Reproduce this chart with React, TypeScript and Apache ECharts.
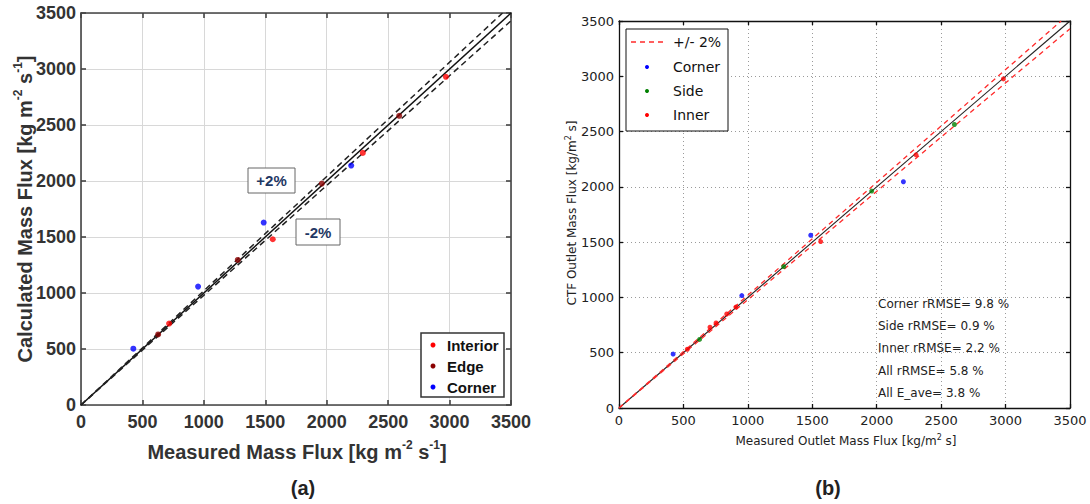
import React, { useEffect, useRef } from "react";
import * as echarts from "echarts";

// ---------- data ----------
const axisMin = 0;
const axisMax = 3500;
const axisStep = 500;

// reference lines (x, y)
const identityLine = [[0, 0], [3500, 3500]];
const plus2Line = [[0, 0], [3431, 3500]];
const minus2Line = [[0, 0], [3500, 3430]];

// chart (a)
const aInteriorX = [717, 1561, 2294, 2970];
const aInteriorY = [727, 1480, 2251, 2930];
const aEdgeX = [628, 1276, 1960, 2590];
const aEdgeY = [630, 1295, 1977, 2582];
const aCornerX = [426, 953, 1487, 2199];
const aCornerY = [503, 1057, 1629, 2138];

// chart (b)
const bCornerX = [420, 953, 1488, 2207];
const bCornerY = [488, 1017, 1562, 2046];
const bSideX = [625, 1278, 1961, 2603];
const bSideY = [620, 1279, 1962, 2564];
const bInnerX = [530, 706, 753, 836, 907, 1565, 2305, 2983];
const bInnerY = [531, 730, 769, 850, 913, 1505, 2290, 2976];

const statsLines = [
  "Corner rRMSE= 9.8 %",
  "Side rRMSE= 0.9 %",
  "Inner rRMSE= 2.2 %",
  "All rRMSE= 5.8 %",
  "All E_ave= 3.8 %",
];

const pairs = (xs: number[], ys: number[]) => xs.map((x, i) => [x, ys[i]]);

const FA = "'Liberation Sans', Arial, sans-serif";
const FB = "'DejaVu Sans', sans-serif";

export default function App() {
  const ref = useRef<HTMLDivElement>(null);
  useEffect(() => {
    if (!ref.current) return;
    const chart = echarts.init(ref.current, undefined, { renderer: "svg" });

    const aLine = { color: "#444", width: 1.6 };
    const bLine = { color: "#111", width: 1.3 };
    const fmt = (v: number) => String(v);

    const mkX = (grid: number, pos: "bottom" | "top", isA: boolean) => ({
      gridIndex: grid,
      type: "value",
      position: pos,
      min: axisMin,
      max: axisMax,
      interval: axisStep,
      axisLine: { show: true, onZero: false, lineStyle: isA ? aLine : bLine },
      axisTick: { show: true, inside: true, length: isA ? 5 : 4, lineStyle: isA ? aLine : bLine },
      axisLabel: {
        show: pos === "bottom",
        formatter: fmt,
        color: isA ? "#333" : "#222",
        fontSize: isA ? 18 : 13,
        fontWeight: isA ? "bold" : "normal",
        fontFamily: isA ? FA : FB,
        margin: isA ? 8 : 6,
      },
      splitLine: {
        show: pos === "bottom",
        lineStyle: isA
          ? { color: "#d8d8d8", width: 1 }
          : { color: "#9a9a9a", width: 1, type: [1, 3] },
      },
    });
    const mkY = (grid: number, pos: "left" | "right", isA: boolean) => ({
      gridIndex: grid,
      type: "value",
      position: pos,
      min: axisMin,
      max: axisMax,
      interval: axisStep,
      axisLine: { show: true, onZero: false, lineStyle: isA ? aLine : bLine },
      axisTick: { show: true, inside: true, length: isA ? 5 : 4, lineStyle: isA ? aLine : bLine },
      axisLabel: {
        show: pos === "left",
        formatter: fmt,
        color: isA ? "#333" : "#222",
        fontSize: isA ? 18 : 13,
        fontWeight: isA ? "bold" : "normal",
        fontFamily: isA ? FA : FB,
        margin: isA ? 5 : 5,
      },
      splitLine: {
        show: pos === "left",
        lineStyle: isA
          ? { color: "#d8d8d8", width: 1 }
          : { color: "#9a9a9a", width: 1, type: [1, 3] },
      },
    });

    const lineSeries = (name: string, data: number[][], xi: number, yi: number, style: any) => ({
      name,
      type: "line",
      xAxisIndex: xi,
      yAxisIndex: yi,
      data,
      showSymbol: false,
      symbol: "none",
      silent: true,
      lineStyle: style,
      z: 2,
    });
    const scatter = (name: string, data: number[][], xi: number, yi: number, color: string, size: number) => ({
      name,
      type: "scatter",
      xAxisIndex: xi,
      yAxisIndex: yi,
      data,
      symbol: "circle",
      symbolSize: size,
      itemStyle: { color },
      z: 3,
    });

    const supA = { fontSize: 12, fontWeight: "bold", fontFamily: FA, fill: "#333", verticalAlign: "top" };
    const supB = { fontSize: 8, fontFamily: FB, fill: "#222", verticalAlign: "top" };

    const graphic: any[] = [
      // axis titles (a)
      {
        type: "text", x: 297, y: 452, z: 100,
        style: {
          text: "Measured Mass Flux [kg m{sup|-2} s{sup|-1}]",
          fontSize: 20, fontWeight: "bold", fontFamily: FA, fill: "#333",
          lineHeight: 27, align: "center", verticalAlign: "middle",
          rich: { sup: supA },
        },
      },
      {
        type: "text", x: 25, y: 209, rotation: Math.PI / 2, z: 100,
        style: {
          text: "Calculated Mass Flux [kg m{sup|-2} s{sup|-1}]",
          fontSize: 20, fontWeight: "bold", fontFamily: FA, fill: "#333",
          lineHeight: 27, align: "center", verticalAlign: "middle",
          rich: { sup: supA },
        },
      },
      // axis titles (b)
      {
        type: "text", x: 846, y: 441, z: 100,
        style: {
          text: "Measured Outlet Mass Flux [kg/m{sup|2} s]",
          fontSize: 12, fontFamily: FB, fill: "#222",
          lineHeight: 16, align: "center", verticalAlign: "middle",
          rich: { sup: supB },
        },
      },
      {
        type: "text", x: 572, y: 213, rotation: Math.PI / 2, z: 100,
        style: {
          text: "CTF Outlet Mass Flux [kg/m{sup|2} s]",
          fontSize: 12, fontFamily: FB, fill: "#222",
          lineHeight: 16, align: "center", verticalAlign: "middle",
          rich: { sup: supB },
        },
      },
      // panel labels
      {
        type: "text", x: 303, y: 488, z: 100,
        style: { text: "(a)", fontSize: 20, fontWeight: "bold", fontFamily: FA, fill: "#222", align: "center", verticalAlign: "middle" },
      },
      {
        type: "text", x: 828, y: 488, z: 100,
        style: { text: "(b)", fontSize: 20, fontWeight: "bold", fontFamily: FA, fill: "#222", align: "center", verticalAlign: "middle" },
      },
      // +2% / -2% boxes
      {
        type: "rect", z: 100, shape: { x: 248, y: 168, width: 47, height: 25 },
        style: { fill: "#fff", stroke: "#666", lineWidth: 1 },
      },
      {
        type: "text", x: 271.5, y: 180.5, z: 101,
        style: { text: "+2%", fontSize: 15, fontWeight: "bold", fontFamily: FA, fill: "#1f3864", align: "center", verticalAlign: "middle" },
      },
      {
        type: "rect", z: 100, shape: { x: 296, y: 219, width: 44, height: 26 },
        style: { fill: "#fff", stroke: "#666", lineWidth: 1 },
      },
      {
        type: "text", x: 318, y: 232, z: 101,
        style: { text: "-2%", fontSize: 15, fontWeight: "bold", fontFamily: FA, fill: "#1f3864", align: "center", verticalAlign: "middle" },
      },
      // legend (a)
      {
        type: "rect", z: 100, shape: { x: 421, y: 333, width: 83, height: 64 },
        style: { fill: "#fff", stroke: "#333", lineWidth: 1.5 },
      },
    ];

    const legA = [
      { name: "Interior", color: "#ff0000", y: 345 },
      { name: "Edge", color: "#8b0000", y: 366 },
      { name: "Corner", color: "#0000ff", y: 387 },
    ];
    legA.forEach((it) => {
      graphic.push({ type: "circle", z: 101, shape: { cx: 433, cy: it.y, r: 2.5 }, style: { fill: it.color } });
      graphic.push({
        type: "text", x: 447, y: it.y, z: 101,
        style: { text: it.name, fontSize: 15, fontWeight: "bold", fontFamily: FA, fill: "#111", align: "left", verticalAlign: "middle" },
      });
    });

    // legend (b)
    graphic.push({
      type: "rect", z: 100, shape: { x: 626, y: 29, width: 102, height: 102 },
      style: { fill: "#fff", stroke: "#111", lineWidth: 1 },
    });
    graphic.push({
      type: "line", z: 101, shape: { x1: 631, y1: 42, x2: 663, y2: 42 },
      style: { stroke: "#ff2a2a", lineWidth: 1.3, lineDash: [5, 4] },
    });
    graphic.push({
      type: "text", x: 673, y: 42, z: 101,
      style: { text: "+/- 2%", fontSize: 14, fontFamily: FB, fill: "#111", align: "left", verticalAlign: "middle" },
    });
    const legB = [
      { name: "Corner", color: "#0000ff", y: 67 },
      { name: "Side", color: "#008000", y: 91 },
      { name: "Inner", color: "#ff0000", y: 115 },
    ];
    legB.forEach((it) => {
      graphic.push({ type: "circle", z: 101, shape: { cx: 647, cy: it.y, r: 2 }, style: { fill: it.color } });
      graphic.push({
        type: "text", x: 673, y: it.y, z: 101,
        style: { text: it.name, fontSize: 14, fontFamily: FB, fill: "#111", align: "left", verticalAlign: "middle" },
      });
    });

    // stats text (b)
    const statsY = [304, 326, 348, 371, 393];
    statsLines.forEach((t, i) => {
      graphic.push({
        type: "text", x: 878, y: statsY[i], z: 101,
        style: { text: t, fontSize: 12, fontFamily: FB, fill: "#222", align: "left", verticalAlign: "middle" },
      });
    });

    chart.setOption({
      animation: false,
      backgroundColor: "#ffffff",
      grid: [
        { left: 81, top: 13, width: 430, height: 392 },
        { left: 619, top: 21, width: 451, height: 387 },
      ],
      xAxis: [mkX(0, "bottom", true), mkX(0, "top", true), mkX(1, "bottom", false), mkX(1, "top", false)],
      yAxis: [mkY(0, "left", true), mkY(0, "right", true), mkY(1, "left", false), mkY(1, "right", false)],
      series: [
        lineSeries("identity a", identityLine, 0, 0, { color: "#111", width: 1.5 }),
        lineSeries("+2% a", plus2Line, 0, 0, { color: "#222", width: 1.5, type: [6, 4] }),
        lineSeries("-2% a", minus2Line, 0, 0, { color: "#222", width: 1.5, type: [6, 4] }),
        scatter("Interior", pairs(aInteriorX, aInteriorY), 0, 0, "#ff0000", 6),
        scatter("Edge", pairs(aEdgeX, aEdgeY), 0, 0, "#8b0000", 6),
        scatter("Corner", pairs(aCornerX, aCornerY), 0, 0, "#0000ff", 6),

        lineSeries("identity b", identityLine, 2, 2, { color: "#222", width: 1.1 }),
        lineSeries("+/- 2%", plus2Line, 2, 2, { color: "#ff2a2a", width: 1.3, type: [5, 4] }),
        lineSeries("+/- 2% low", minus2Line, 2, 2, { color: "#ff2a2a", width: 1.3, type: [5, 4] }),
        scatter("Corner b", pairs(bCornerX, bCornerY), 2, 2, "#0000ff", 5),
        scatter("Side", pairs(bSideX, bSideY), 2, 2, "#008000", 5),
        scatter("Inner", pairs(bInnerX, bInnerY), 2, 2, "#ff0000", 5),
      ],
      graphic,
    });
    return () => chart.dispose();
  }, []);

  return (
    <div
      ref={ref}
      style={{ position: "absolute", left: 0, top: 0, width: 1090, height: 504, background: "#fff" }}
    />
  );
}
